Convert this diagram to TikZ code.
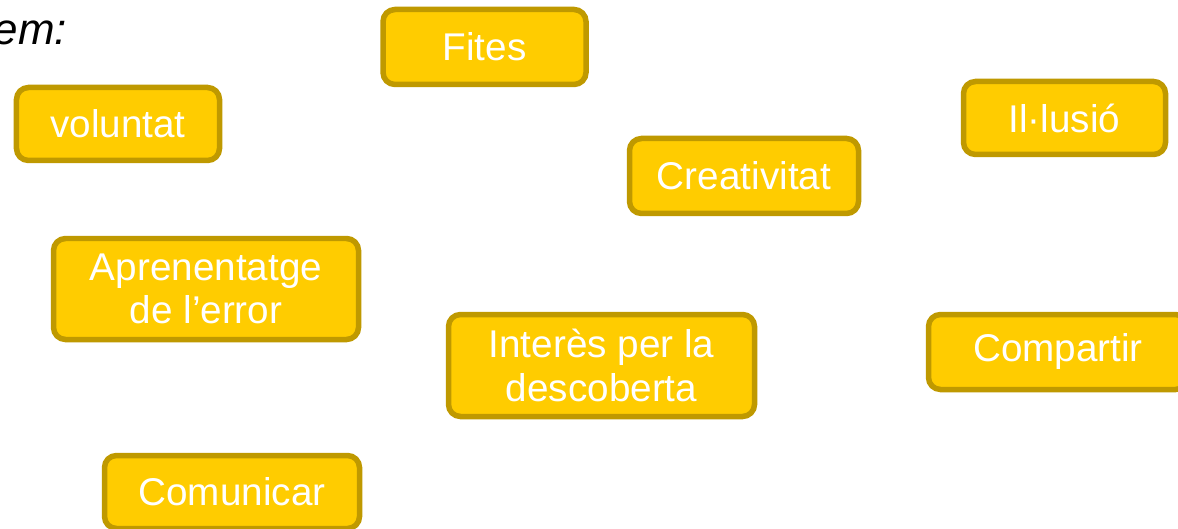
\documentclass[tikz,border=0pt]{standalone}
\usepackage{fontspec}
\setmainfont{Liberation Sans}
\definecolor{boxfill}{HTML}{FFCC00}
\definecolor{boxline}{HTML}{BF9900}
\begin{document}
\begin{tikzpicture}[
    tag/.style={draw=boxline, line width=0.055cm, fill=boxfill, rounded corners=0.12cm,
                text=white, align=center, inner sep=0pt,
                font=\fontsize{11}{12.4}\selectfont}]
    \useasboundingbox (0, 0) rectangle (11.78, 5.28);

    \node[anchor=base west, inner sep=0pt, font=\fontsize{12.5}{14}\selectfont\itshape] (intro) at (-0.07, 4.83) {em:};

    \node[tag, minimum width=2.03cm, minimum height=0.75cm] (fites) at (4.845, 4.81) {Fites};
    \node[tag, minimum width=2.03cm, minimum height=0.73cm] (voluntat) at (1.18, 4.04) {voluntat};
    \node[tag, minimum width=2.02cm, minimum height=0.73cm] (illusio) at (10.645, 4.10) {Il·lusió};
    \node[tag, minimum width=2.29cm, minimum height=0.75cm] (creativitat) at (7.44, 3.52) {Creativitat};
    \node[tag, minimum width=3.05cm, minimum height=1.01cm] (error) at (2.06, 2.39) {Aprenentatge\\de l’error};
    \node[tag, minimum width=3.06cm, minimum height=1.02cm] (descoberta) at (6.015, 1.625) {Interès per la\\descoberta};
    \node[tag, minimum width=2.59cm, minimum height=0.75cm] (compartir) at (10.58, 1.76) {Compartir};
    \node[tag, minimum width=2.55cm, minimum height=0.73cm] (comunicar) at (2.32, 0.36) {Comunicar};
\end{tikzpicture}
\end{document}
